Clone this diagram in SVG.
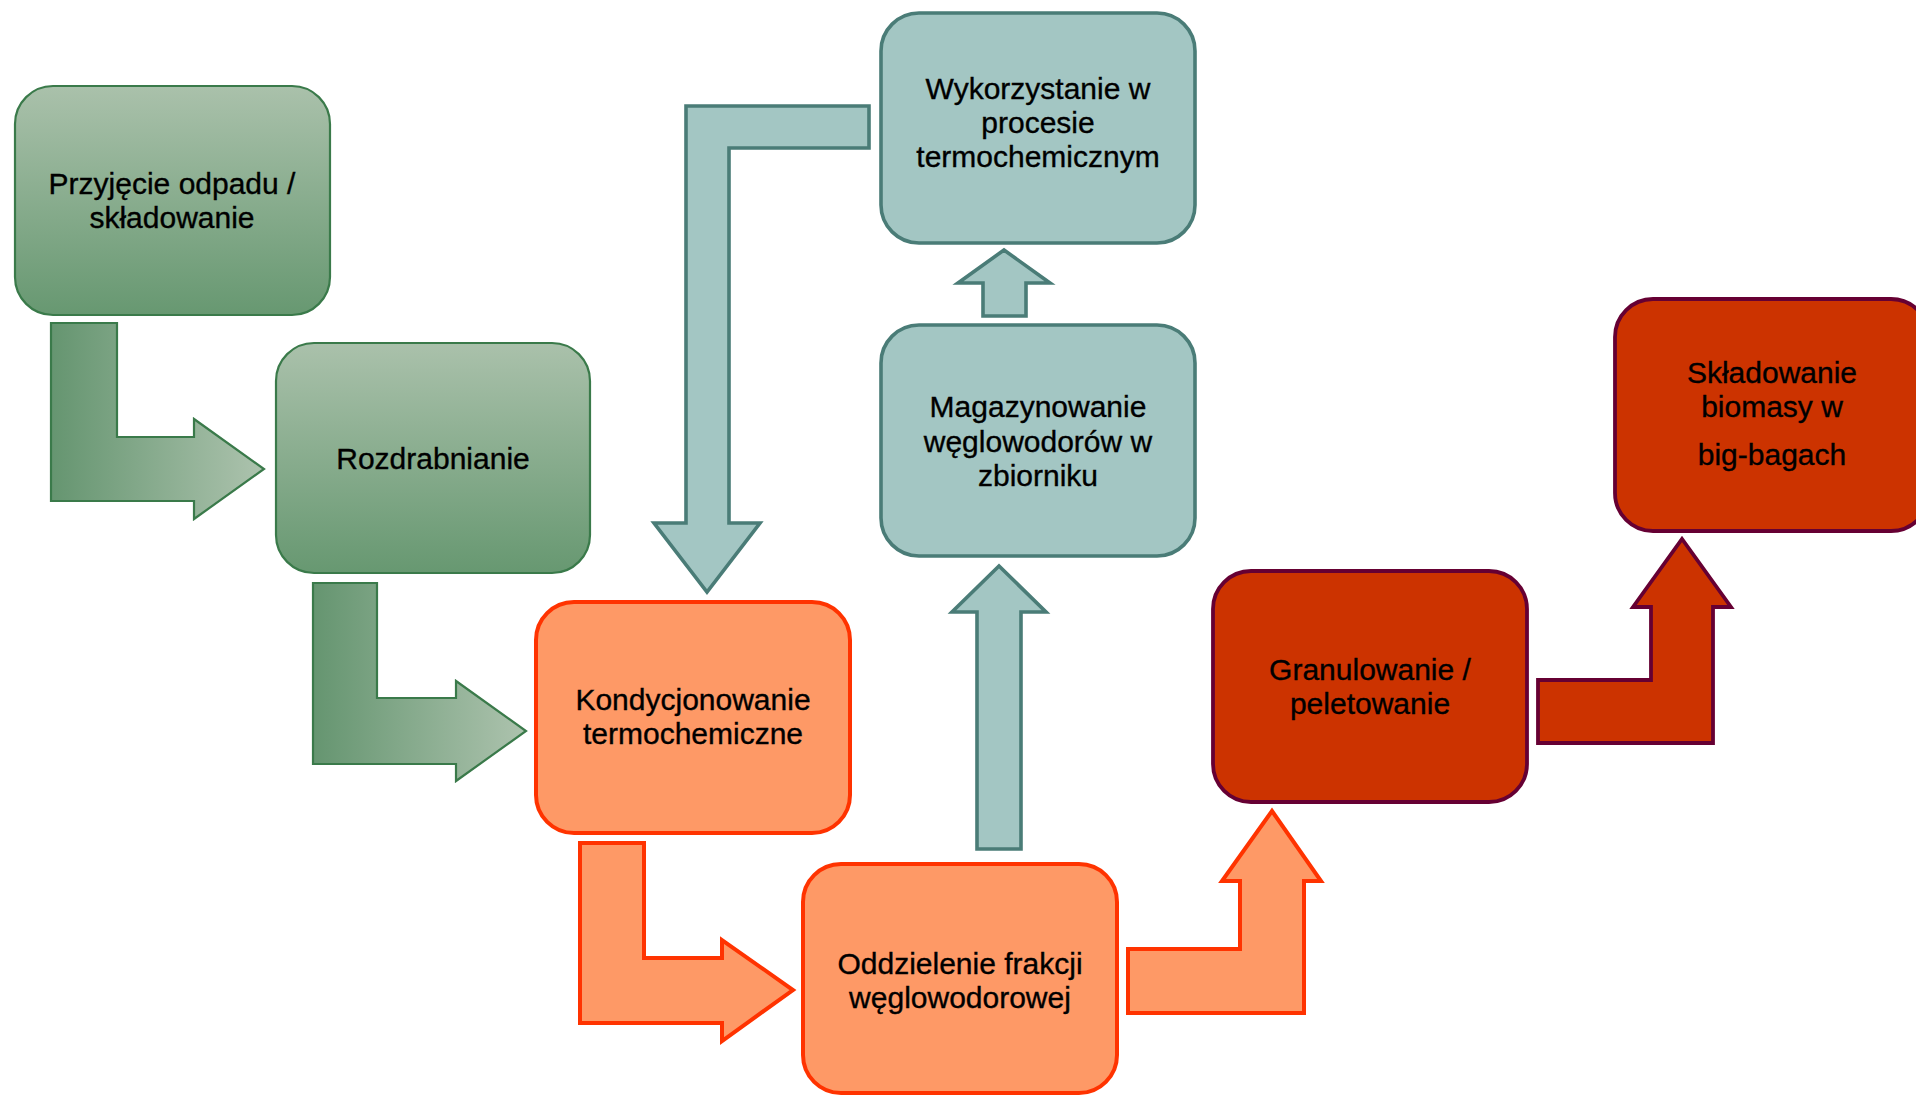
<svg xmlns="http://www.w3.org/2000/svg" width="1916" height="1095" viewBox="0 0 1916 1095">
<defs>
<linearGradient id="gBox" x1="0" y1="0" x2="0" y2="1">
<stop offset="0" stop-color="#aac1ab"/>
<stop offset="1" stop-color="#679871"/>
</linearGradient>
<linearGradient id="gArrow" x1="0" y1="0" x2="1" y2="0">
<stop offset="0" stop-color="#659570"/>
<stop offset="1" stop-color="#adc3ae"/>
</linearGradient>
<style>
.green{fill:url(#gBox);stroke:#3a7a4a;stroke-width:2.2}
.garrow{fill:url(#gArrow);stroke:#3a7a4a;stroke-width:2.2}
.teal{fill:#a3c6c3;stroke:#4a7c77;stroke-width:3.6}
.orange{fill:#fe9966;stroke:#ff3300;stroke-width:4}
.red{fill:#cc3300;stroke:#660033;stroke-width:3.8}
text{font-family:"Liberation Sans",Arial,sans-serif;font-size:30px;fill:#000;stroke:#000;stroke-width:0.35;text-anchor:middle}
</style>
</defs>
<rect width="1916" height="1095" fill="#fff"/>

<g id="connectors">
<path id="c1" class="garrow" d="M51,323 L117,323 L117,437 L194,437 L194,419 L264,469 L194,519 L194,501 L51,501 Z"/>
<path id="c2" class="garrow" d="M313,583 L377,583 L377,698 L456,698 L456,681 L526,731 L456,781 L456,764 L313,764 Z"/>
<path id="c3" class="orange" d="M580,843 L644,843 L644,958 L722,958 L722,940 L793,990 L722,1041 L722,1023 L580,1023 Z"/>
<path id="c4" class="orange" d="M1128,949 L1240,949 L1240,881 L1222,881 L1272,811 L1321,881 L1304,881 L1304,1013 L1128,1013 Z"/>
<path id="c5" class="red" d="M1538,680 L1651,680 L1651,607 L1633,607 L1682,539 L1731,607 L1713,607 L1713,743 L1538,743 Z"/>
<path id="c6" class="teal" d="M977,849 L977,612 L952,612 L999,566 L1046,612 L1021,612 L1021,849 Z"/>
<path id="c7" class="teal" d="M983,316 L983,283 L958,283 L1004,250 L1050,283 L1026,283 L1026,316 Z"/>
<path id="c8" class="teal" d="M869,106 L869,148 L729,148 L729,523 L760,523 L707,592 L654,523 L686,523 L686,106 Z"/>
</g>

<g id="n1">
<rect class="green" x="15" y="86" width="315" height="229" rx="38"/>
<text x="172" y="194">Przyjęcie odpadu /</text>
<text x="172" y="228">składowanie</text>
</g>
<g id="n2">
<rect class="green" x="276" y="343" width="314" height="230" rx="38"/>
<text x="433" y="469">Rozdrabnianie</text>
</g>
<g id="n3">
<rect class="orange" x="536" y="602" width="314" height="231" rx="38"/>
<text x="693" y="710">Kondycjonowanie</text>
<text x="693" y="744">termochemiczne</text>
</g>
<g id="n4">
<rect class="orange" x="803" y="864" width="314" height="229" rx="38"/>
<text x="960" y="974">Oddzielenie frakcji</text>
<text x="960" y="1008">węglowodorowej</text>
</g>
<g id="n5">
<rect class="teal" x="881" y="325" width="314" height="231" rx="38"/>
<text x="1038" y="417">Magazynowanie</text>
<text x="1038" y="452">węglowodorów w</text>
<text x="1038" y="486">zbiorniku</text>
</g>
<g id="n6">
<rect class="teal" x="881" y="13" width="314" height="230" rx="38"/>
<text x="1038" y="99">Wykorzystanie w</text>
<text x="1038" y="133">procesie</text>
<text x="1038" y="167">termochemicznym</text>
</g>
<g id="n7">
<rect class="red" x="1213" y="571" width="314" height="231" rx="38"/>
<text x="1370" y="680">Granulowanie /</text>
<text x="1370" y="714">peletowanie</text>
</g>
<g id="n8">
<rect class="red" x="1615" y="299" width="314" height="232" rx="38"/>
<text x="1772" y="383">Składowanie</text>
<text x="1772" y="417">biomasy w</text>
<text x="1772" y="465">big-bagach</text>
</g>
</svg>
